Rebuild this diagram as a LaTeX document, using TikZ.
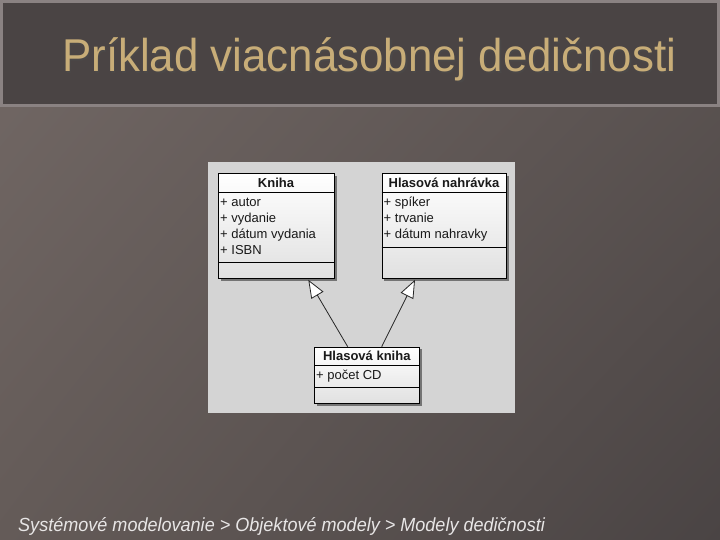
\documentclass[tikz,border=0pt]{standalone}
\usepackage{fontspec}
\setmainfont{Liberation Sans}
\usetikzlibrary{arrows.meta,shadows,calc,shadings}
\definecolor{barfill}{HTML}{4A4444}
\definecolor{barborder}{HTML}{8A8282}
\definecolor{titlecol}{HTML}{C8AD78}
\definecolor{panel}{HTML}{D4D4D4}
\definecolor{footcol}{HTML}{E8E6E6}
\definecolor{bgul}{RGB}{114,104,101}
\definecolor{bgur}{RGB}{92,84,82}
\definecolor{bgll}{RGB}{100,91,88}
\definecolor{bglr}{RGB}{74,68,68}
\tikzset{
  classbox/.style={draw=black, line width=1pt, rectangle, inner sep=0pt, anchor=north west,
    top color=white, bottom color=black!12,
    drop shadow={shadow xshift=2pt, shadow yshift=-2pt, opacity=0.45, fill=black}},
  hdr/.style={font=\fontsize{13}{15}\selectfont\bfseries, text=black!90, inner sep=0pt},
  attr/.style={font=\fontsize{13}{15}\selectfont, text=black!90, inner sep=0pt, anchor=west,
    text height=9.5pt, text depth=2.8pt},
  sep/.style={draw=black, line width=1pt},
  inherit/.style={draw=black!85, line width=0.8pt, -{Triangle[fill=white, length=18pt, width=14pt, line width=0.8pt]}}
}
\begin{document}
\begin{tikzpicture}[x=1pt,y=-1pt]
\useasboundingbox (0,0) rectangle (720,540);
% background
\shade[upper left=bgul, upper right=bgur, lower left=bgll, lower right=bglr]
  (0,0) rectangle (720,540);
% title bar
\fill[barborder] (0,0) rectangle (720,107);
\fill[barfill] (3,3) rectangle (717,104.5);
\node[anchor=base west, inner sep=0pt, text=black!70, opacity=0.5, font=\fontsize{46}{50}\selectfont, xscale=0.953, transform shape] at (63.5,73.5) {Príklad viacnásobnej dedičnosti};
\node (title) [anchor=base west, inner sep=0pt, text=titlecol, font=\fontsize{46}{50}\selectfont, xscale=0.953, transform shape] at (62,72) {Príklad viacnásobnej dedičnosti};
% panel
\fill[panel] (207.5,162.5) rectangle (515,412.5);
% Kniha
\node (kniha) [classbox, minimum width=116pt, minimum height=105pt] at (218,173.3) {};
\draw[sep] (218,192.5) -- (334,192.5);
\draw[sep] (218,262.7) -- (334,262.7);
\node (knihaH) [hdr] at (276,182.8) {Kniha};
\node (k1) [attr] at (220,202.7) {+ autor};
\node (k2) [attr] at (220,219.5) {+ vydanie};
\node (k3) [attr] at (220,235) {+ dátum vydania};
\node (k4) [attr] at (220,250.7) {+ ISBN};
% Hlasova nahravka
\node (nahr) [classbox, minimum width=124.5pt, minimum height=105pt] at (381.7,173.3) {};
\draw[sep] (381.7,192.7) -- (506.2,192.7);
\draw[sep] (381.7,247.7) -- (506.2,247.7);
\node (nahrH) [hdr] at (444,182.8) {Hlasová nahrávka};
\node (n1) [attr] at (383.5,202.7) {+ spíker};
\node (n2) [attr] at (383.5,218.7) {+ trvanie};
\node (n3) [attr] at (383.5,234.7) {+ dátum nahravky};
% Hlasova kniha
\node (hk) [classbox, minimum width=105pt, minimum height=56.6pt] at (314.3,346.7) {};
\draw[sep] (314.3,365.7) -- (419.3,365.7);
\draw[sep] (314.3,387.7) -- (419.3,387.7);
\node (hkH) [hdr] at (366.8,355.7) {Hlasová kniha};
\node (h1) [attr] at (316,376) {+ počet CD};
% inheritance
\coordinate (a1) at ($(hk.north west)+(33.4,0)$);
\coordinate (t1) at ($(kniha.south west)+(90.3,0.5)$);
\coordinate (a2) at ($(hk.north west)+(67.4,0)$);
\coordinate (t2) at ($(nahr.south west)+(33.3,0.5)$);
\draw[inherit] (a1) -- (t1);
\draw[inherit] (a2) -- (t2);
% footer
\node (foot) [anchor=base west, inner sep=0pt, text=footcol, font=\fontsize{19}{22}\selectfont\itshape, xscale=0.95, transform shape] at (18,531.5) {Systémové modelovanie > Objektové modely > Modely dedičnosti};
\end{tikzpicture}
\end{document}
